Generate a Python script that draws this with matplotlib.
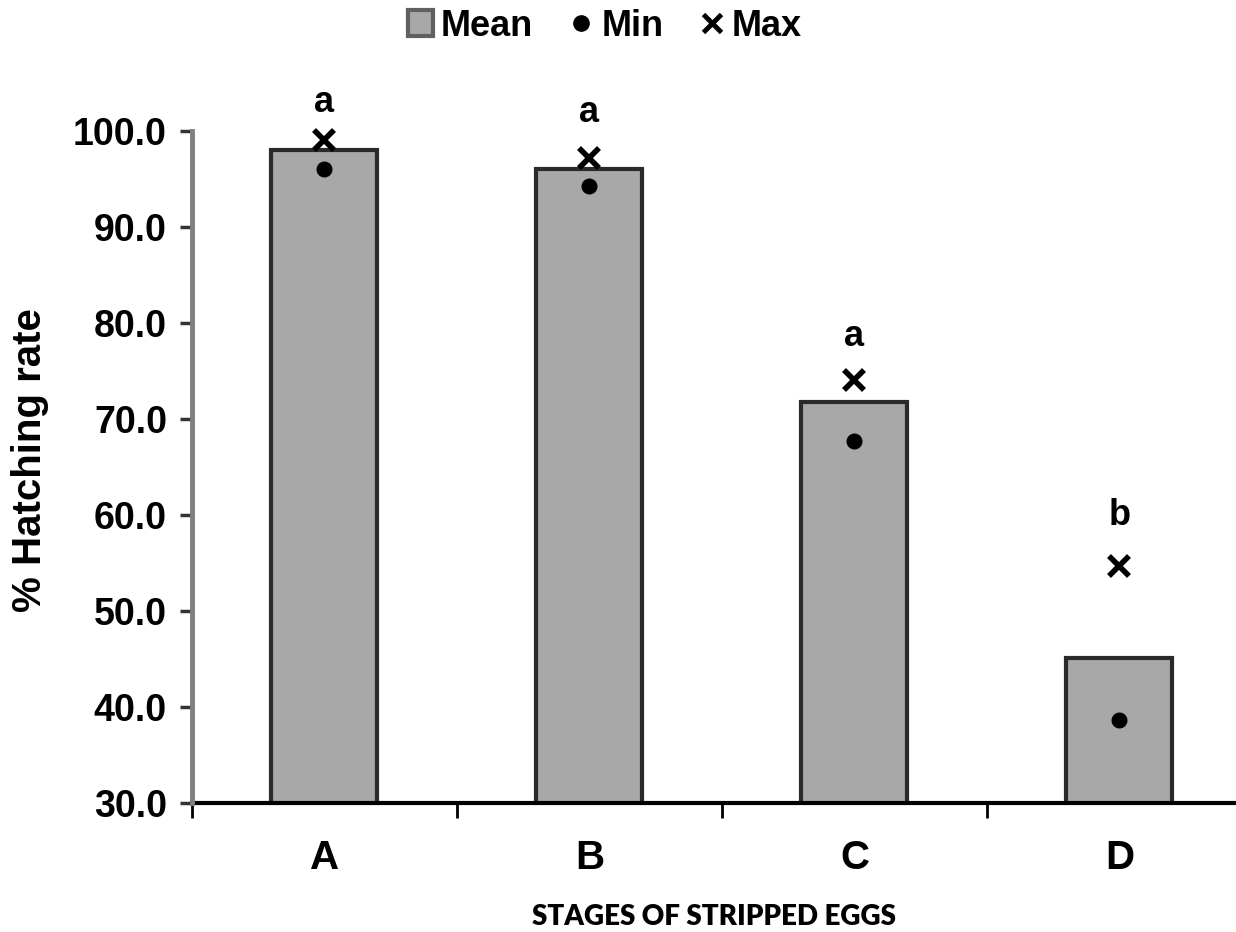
import numpy as np
import matplotlib.pyplot as plt
from matplotlib.lines import Line2D
from matplotlib.patches import Patch

# values
stages = ["A", "B", "C", "D"]
mean_rate = [98.0, 96.0, 71.8, 45.1]
min_rate = [96.0, 94.3, 67.7, 38.6]
max_rate = [99.1, 97.2, 74.1, 54.7]
groups = ["a", "a", "a", "b"]
group_y = [103.0, 101.9, 78.6, 60.0]

plt.rcParams["font.family"] = ["Liberation Sans", "DejaVu Sans"]

fig = plt.figure(figsize=(12.36, 9.32), dpi=100)
ax = fig.add_axes([0.1553, 0.1384, 0.8447, 0.721])

x = np.arange(len(stages))
ax.bar(x, mean_rate, width=0.4, color="#a8a8a8",
       edgecolor="#2a2a2a", linewidth=3, zorder=2)
ax.plot(x, min_rate, "o", color="black", markersize=10.5, zorder=3, clip_on=False)
ax.plot(x, max_rate, "x", color="black", markersize=15, markeredgewidth=4,
        zorder=3, clip_on=False)

# significance letters
for xi, gy, g in zip(x, group_y, groups):
    ax.text(xi, gy, g, ha="center", va="center", fontsize=26,
            fontweight="bold")

ax.set_ylim(30, 100)
ax.set_xlim(-0.5, 3.44)
yt = np.arange(30, 101, 10)
ax.set_yticks(yt)
ax.set_yticklabels([f"{v:.1f}" for v in yt], fontsize=27, fontweight="bold")
ax.tick_params(axis="y", length=9, width=2.5, pad=9, color="#333333")

ax.set_xticks(x)
ax.set_xticklabels(stages, fontsize=29, fontweight="bold")
ax.tick_params(axis="x", which="major", length=0, pad=26)
ax.set_xticks([-0.5, 0.5, 1.5, 2.5], minor=True)
ax.tick_params(axis="x", which="minor", length=11, width=2)

for s in ["top", "right"]:
    ax.spines[s].set_visible(False)
ax.spines["left"].set_color("#808080")
ax.spines["left"].set_linewidth(3.5)
ax.spines["left"].set_zorder(4)
ax.spines["bottom"].set_linewidth(3)

ax.set_ylabel("% Hatching rate", fontsize=29, fontweight="bold")
ax.yaxis.set_label_coords(-0.137, 0.51)
ax.set_xlabel("STAGES OF STRIPPED EGGS", fontsize=20, fontweight="heavy",
              family=["Lato", "DejaVu Sans"])
ax.xaxis.set_label_coords(0.5, -0.15)

handles = [
    Patch(facecolor="#a8a8a8", edgecolor="#606060", linewidth=3),
    Line2D([], [], marker="o", color="black", linestyle="none", markersize=11),
    Line2D([], [], marker="x", color="black", linestyle="none", markersize=13,
           markeredgewidth=3.5),
]
fig.legend(handles, ["Mean", "Min", "Max"], loc="center",
           bbox_to_anchor=(0.4895, 0.972), ncol=3, frameon=False,
           prop={"size": 26, "weight": "bold"}, handlelength=0.7,
           handleheight=0.7, handletextpad=0.2, columnspacing=1.0)

fig.savefig("out.png", dpi=100)
